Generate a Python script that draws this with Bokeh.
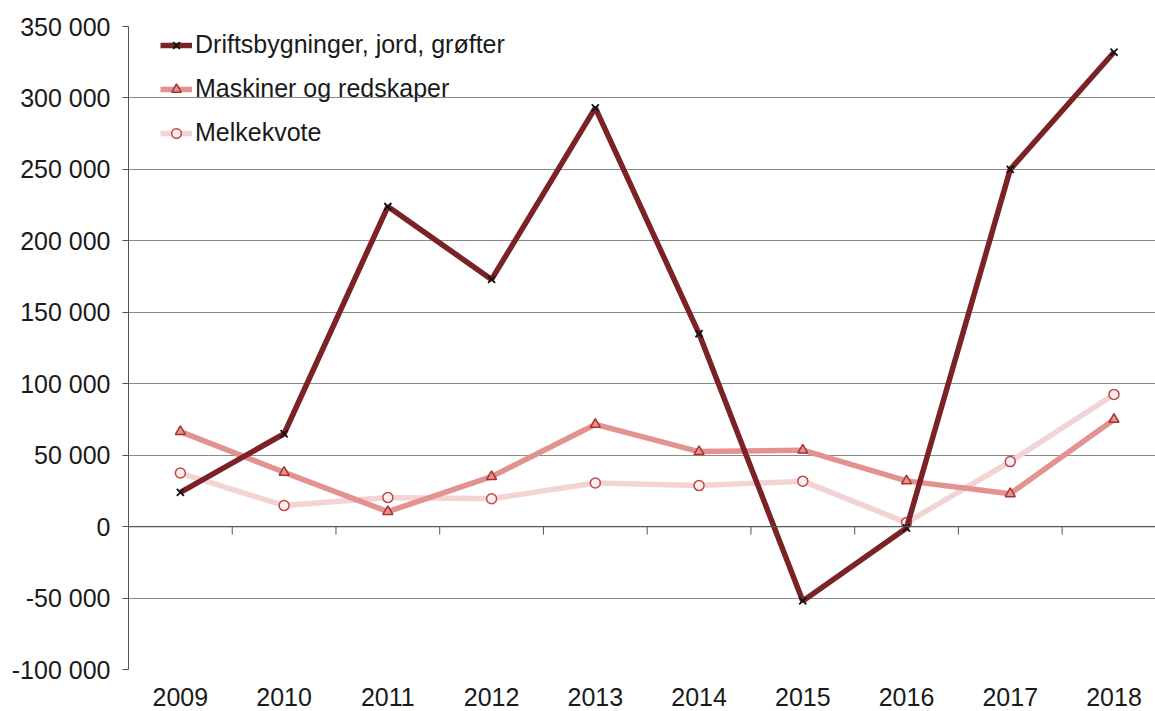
from bokeh.plotting import figure
from bokeh.models import Range1d, FixedTicker, Span, Legend, LegendItem
from bokeh.embed import file_html
from bokeh.resources import INLINE

years = ["2009", "2010", "2011", "2012", "2013", "2014", "2015", "2016", "2017", "2018"]
drift = [24000, 65000, 224000, 173000, 293000, 135000, -52000, -1000, 250000, 332000]
maskiner = [66500, 38000, 10500, 35000, 71500, 52500, 53500, 32000, 23000, 75000]
melk = [37500, 14700, 20300, 19500, 30500, 28700, 31800, 2800, 45500, 92500]
names = ["Driftsbygninger, jord, grøfter", "Maskiner og redskaper", "Melkekvote"]
yticks = list(range(-100000, 350001, 50000))

FONT = "Liberation Sans"
FS = "25px"
xs = list(range(len(years)))

FRAME_H = 643
p = figure(width=1155, height=710, output_backend="svg", toolbar_location=None,
           x_range=Range1d(-0.5, 9.4), y_range=Range1d(-100000, 350000),
           min_border_left=128, min_border_right=0, min_border_top=26, min_border_bottom=41)
p.outline_line_color = None
p.background_fill_color = "white"

# y axis
p.yaxis.ticker = FixedTicker(ticks=yticks)
p.yaxis.major_label_overrides = {v: f"{v:,}".replace(",", " ") for v in yticks}
p.yaxis.major_label_text_font = FONT
p.yaxis.major_label_text_font_size = FS
p.yaxis.major_label_text_color = "#1a1a1a"
p.yaxis.axis_line_color = "#555555"
p.yaxis.major_tick_line_color = "#555555"
p.yaxis.major_tick_out = 6
p.yaxis.major_tick_in = 0
p.yaxis.minor_tick_line_color = None
p.yaxis.major_label_standoff = 12

# x axis (labels only)
p.xaxis.ticker = FixedTicker(ticks=xs)
p.xaxis.major_label_overrides = {i: y for i, y in enumerate(years)}
p.xaxis.major_label_text_font = FONT
p.xaxis.major_label_text_font_size = FS
p.xaxis.major_label_text_color = "#1a1a1a"
p.xaxis.axis_line_color = None
p.xaxis.major_tick_line_color = None
p.xaxis.minor_tick_line_color = None
p.xaxis.major_label_standoff = 12

p.xgrid.grid_line_color = None
p.ygrid.ticker = FixedTicker(ticks=yticks)
p.ygrid.grid_line_color = "#8a8a8a"
p.ygrid.grid_line_width = 1

# zero axis line with category boundary ticks
p.add_layout(Span(location=0, dimension="width", line_color="#555555", line_width=1.2))
unit = 450000 / FRAME_H
bounds = [i + 0.5 for i in range(len(years))]
p.segment(x0=bounds, x1=bounds, y0=[0] * len(bounds), y1=[-8 * unit] * len(bounds),
          line_color="#555555", line_width=1)

c_drift = "#7a2226"
c_mask = "#e3938f"
c_melk = "#f3d3d3"

l3 = p.line(xs, melk, line_color=c_melk, line_width=5.5)
s3 = p.scatter(xs, melk, marker="circle", size=10, fill_color="#fbeeee",
               line_color="#c04848", line_width=1.5)
l2 = p.line(xs, maskiner, line_color=c_mask, line_width=5.5)
s2 = p.scatter(xs, maskiner, marker="triangle", size=10, fill_color=c_mask,
               line_color="#a83232", line_width=1.5)
l1 = p.line(xs, drift, line_color=c_drift, line_width=5.5)
s1 = p.scatter(xs, drift, marker="x", size=10, line_color="#111111", line_width=1.8)

legend = Legend(items=[LegendItem(label=names[0], renderers=[l1, s1]),
                       LegendItem(label=names[1], renderers=[l2, s2]),
                       LegendItem(label=names[2], renderers=[l3, s3])],
                location=(32, 522), padding=0, margin=0, spacing=15,
                glyph_width=32, glyph_height=24, label_height=24, label_standoff=3,
                label_text_font=FONT, label_text_font_size=FS,
                label_text_color="#1a1a1a",
                background_fill_alpha=0, border_line_color=None)
p.add_layout(legend)

open("out.html", "w").write(file_html(p, INLINE))
